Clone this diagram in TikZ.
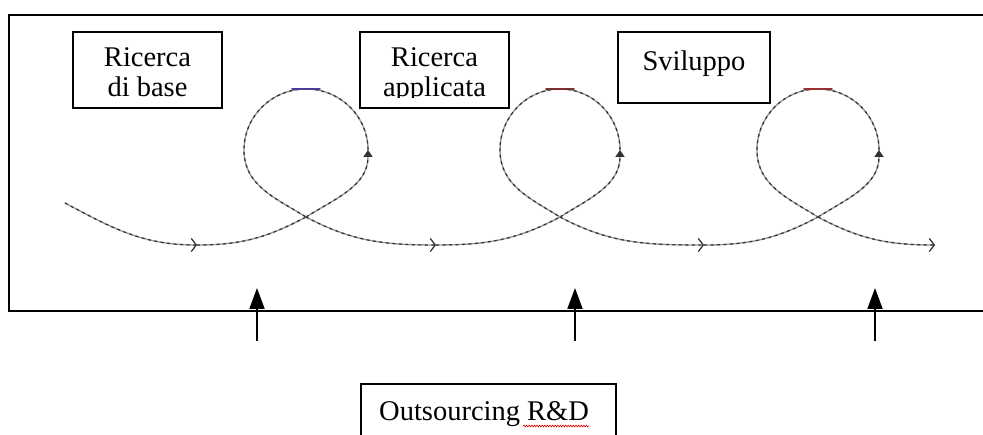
\documentclass[tikz,border=0pt]{standalone}
\usepackage{fontspec}
\setmainfont{Liberation Serif}
\usetikzlibrary{arrows.meta,decorations.pathmorphing}

\begin{document}
\begin{tikzpicture}[x=1pt,y=1pt,
  frame/.style={line width=2.6pt, black, line cap=rect},
  stagebox/.style={draw, line width=1.9pt, inner sep=0pt},
  lbl/.style={inner sep=0pt, anchor=base, font=\fontsize{28.5}{30}\selectfont},
  curve/.style={draw=black!40, line width=1.4pt,
    postaction={draw=black!80, line width=1.2pt, dash pattern=on 3pt off 3.5pt}},
  flowtip/.style={-{Straight Barb[length=5pt,width=13pt,line width=1.1pt]}},
  looptip/.style={-{Triangle[length=7pt,width=9pt]}},
  inarrow/.style={line width=2pt, -{Triangle[length=21pt,width=15pt]}},
  topmark/.style={line width=1.8pt, line cap=round},
]
\useasboundingbox (0,0) rectangle (983,-435);
\clip (0,0) rectangle (983,-435);

% outer frame, open on the right
\coordinate (ftr) at (990,-15);
\coordinate (ftl) at (9,-15);
\coordinate (fbl) at (9,-311);
\coordinate (fbr) at (990,-311);
\draw[frame] (ftr) -- (ftl) -- (fbl) -- (fbr);

% stage boxes
\node[stagebox, minimum width=149pt, minimum height=76pt] (base) at (147.5,-70) {};
\node[lbl] (baseA) at (147.5,-67) {Ricerca};
\node[lbl] (baseB) at (147.5,-97) {di base};

\node[stagebox, minimum width=149pt, minimum height=76pt] (appl) at (434.5,-70) {};
\begin{scope}
  \clip (362,-34) rectangle (507,-98);
  \node[lbl] (applA) at (434.5,-67) {Ricerca};
  \node[lbl] (applB) at (434.5,-97) {applicata};
\end{scope}

\node[stagebox, minimum width=152pt, minimum height=71pt] (svil) at (694,-67.5) {};
\node[lbl] (svilA) at (694,-71) {Sviluppo};

% looping path
\coordinate (S)  at (65,-203);
\coordinate (B1) at (197,-245);
\coordinate (B2) at (436,-245);
\coordinate (B3) at (704,-245);
\coordinate (E)  at (935,-245);
\foreach \i/\cx/\r in {1/306/62, 2/560/60, 3/818/61}{
  \coordinate (X\i) at (\cx,-217);
  \coordinate (R\i) at (\cx+\r,-150);
  \coordinate (T\i) at (\cx,-89);
  \coordinate (L\i) at (\cx-\r,-150);
}

\draw[curve, flowtip] (S) to[out=-28,in=180] (B1);
\draw[curve] (B1) to[out=0,in=208] (X1);
\draw[curve, looptip] (X1) to[out=32,in=-90] (R1);
\draw[curve] (R1) to[out=90,in=0] (T1) to[out=180,in=90] (L1) to[out=-90,in=148] (X1);
\draw[curve, flowtip] (X1) to[out=-28,in=180] (B2);
\draw[curve] (B2) to[out=0,in=208] (X2);
\draw[curve, looptip] (X2) to[out=32,in=-90] (R2);
\draw[curve] (R2) to[out=90,in=0] (T2) to[out=180,in=90] (L2) to[out=-90,in=148] (X2);
\draw[curve, flowtip] (X2) to[out=-28,in=180] (B3);
\draw[curve] (B3) to[out=0,in=208] (X3);
\draw[curve, looptip] (X3) to[out=32,in=-90] (R3);
\draw[curve] (R3) to[out=90,in=0] (T3) to[out=180,in=90] (L3) to[out=-90,in=148] (X3);
\draw[curve, flowtip] (X3) to[out=-28,in=180] (E);

% coloured strokes on the loop tops
\draw[topmark, draw={rgb,255:red,80;green,60;blue,150}] ([xshift=-14pt]T1) -- ([xshift=14pt]T1);
\draw[topmark, draw={rgb,255:red,120;green,50;blue,50}] ([xshift=-14pt]T2) -- ([xshift=14pt]T2);
\draw[topmark, draw={rgb,255:red,150;green,50;blue,50}] ([xshift=-14pt]T3) -- ([xshift=14pt]T3);

% outsourcing inputs
\node[stagebox, minimum width=255pt, minimum height=80pt, anchor=north west] (outs) at (360,-383) {};
\node[lbl, anchor=base west] (outsA) at (379,-421) {Outsourcing R\&D};
\draw[red!85!black, line width=0.6pt, decorate,
      decoration={snake, amplitude=0.9pt, segment length=2.6pt}]
  ([xshift=-66pt,yshift=-5pt]outsA.base east) -- ([yshift=-5pt]outsA.base east);

\foreach \n/\x in {1/257, 2/575, 3/875}{
  \coordinate (in\n) at (\x,-341);
  \coordinate (tip\n) at (\x,-288);
  \draw[inarrow] (in\n) -- (tip\n);
}
\end{tikzpicture}
\end{document}
